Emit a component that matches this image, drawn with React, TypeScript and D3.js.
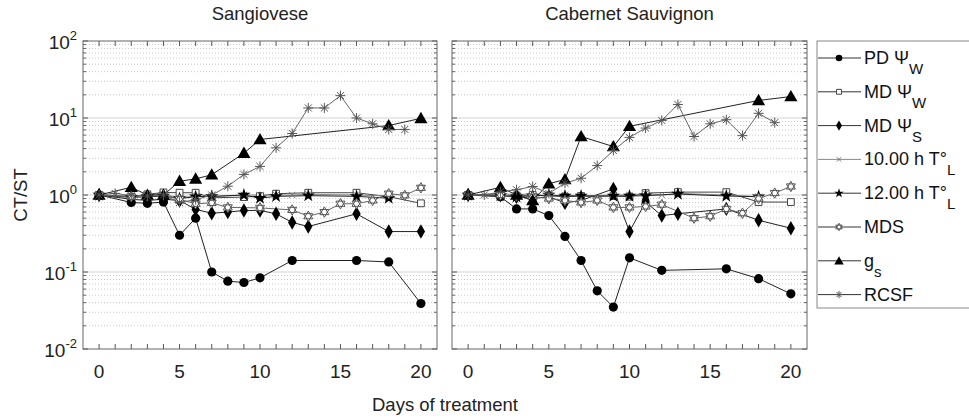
import React from 'react';
import * as d3 from 'd3';

// days / values, one pair per series and panel
const sgPdDays = [0, 2, 3, 4, 5, 6, 7, 8, 9, 10, 12, 16, 18, 20];
const sgPdVals = [1, 0.8, 0.78, 0.81, 0.3, 0.5, 0.1, 0.076, 0.073, 0.084, 0.141, 0.141, 0.135, 0.039];
const sgMdwDays = [0, 2, 3, 4, 5, 6, 7, 9, 10, 11, 13, 16, 18, 20];
const sgMdwVals = [1, 0.95, 1.02, 1.08, 1.07, 1.07, 0.92, 0.94, 0.97, 1.04, 1.07, 1.07, 0.95, 0.78];
const sgMdsDays = [0, 2, 3, 4, 5, 6, 7, 8, 9, 10, 11, 12, 13, 16, 18, 20];
const sgMdsVals = [1, 0.88, 0.85, 0.88, 0.85, 0.65, 0.58, 0.6, 0.63, 0.63, 0.57, 0.44, 0.39, 0.57, 0.335, 0.335];
const sgT10Days = [0, 2, 3, 4, 5, 6, 7, 9, 10, 11, 12, 13, 16, 18];
const sgT10Vals = [1, 0.97, 1.0, 1.02, 0.92, 0.97, 0.95, 1.0, 1.0, 1.0, 1.0, 1.02, 1.0, 0.97];
const sgT12Days = [0, 2, 3, 4, 5, 6, 7, 9, 10, 11, 13, 16, 18];
const sgT12Vals = [1, 0.93, 0.95, 0.97, 0.9, 0.95, 0.96, 1.0, 0.91, 0.96, 0.98, 0.96, 0.91];
const sgMdsiDays = [0, 2, 3, 4, 5, 6, 7, 8, 10, 12, 13, 14, 15, 16, 17, 18, 19, 20];
const sgMdsiVals = [1, 0.95, 0.97, 1.0, 0.88, 0.77, 0.79, 0.69, 0.68, 0.64, 0.53, 0.6, 0.77, 0.77, 0.85, 1.04, 0.99, 1.24];
const sgGsDays = [0, 2, 3, 4, 5, 6, 7, 9, 10, 18, 20];
const sgGsVals = [1, 1.26, 1.0, 1.0, 1.51, 1.62, 1.83, 3.49, 5.26, 7.98, 9.9];
const sgRcsfDays = [0, 1, 2, 3, 4, 5, 6, 7, 8, 9, 10, 11, 12, 13, 14, 15, 16, 17, 18, 19];
const sgRcsfVals = [1, 1.05, 0.98, 0.97, 1.0, 0.8, 0.87, 1.0, 1.3, 1.85, 2.35, 4.1, 6.3, 13.5, 13.5, 19.5, 10.0, 8.4, 7.1, 7.1];

const cbPdDays = [0, 2, 3, 4, 5, 6, 7, 8, 9, 10, 12, 16, 18, 20];
const cbPdVals = [1, 0.95, 0.66, 0.66, 0.54, 0.29, 0.141, 0.057, 0.035, 0.153, 0.105, 0.11, 0.082, 0.052];
const cbMdwDays = [0, 2, 3, 4, 5, 6, 7, 9, 10, 11, 13, 16, 18, 20];
const cbMdwVals = [1, 0.97, 0.98, 1.0, 0.97, 0.95, 0.97, 0.97, 0.95, 1.06, 1.09, 1.09, 0.81, 0.81];
const cbMdsDays = [0, 2, 3, 4, 5, 6, 7, 9, 10, 11, 12, 13, 16, 18, 20];
const cbMdsVals = [1, 1.0, 0.95, 0.9, 0.95, 0.79, 0.85, 1.2, 0.336, 0.81, 0.54, 0.57, 0.66, 0.47, 0.37];
const cbT10Days = [0, 2, 3, 4, 5, 6, 7, 9, 10, 11, 12, 13, 16, 18];
const cbT10Vals = [1, 1.05, 1.0, 1.05, 0.95, 1.0, 0.97, 1.0, 1.0, 1.05, 1.0, 1.05, 1.0, 0.95];
const cbT12Days = [0, 2, 3, 4, 5, 6, 7, 9, 10, 11, 13, 16, 18];
const cbT12Vals = [1, 0.98, 0.95, 0.97, 1.0, 0.97, 0.97, 0.97, 0.97, 0.98, 1.03, 0.97, 0.95];
const cbMdsiDays = [0, 2, 3, 4, 5, 6, 7, 8, 9, 10, 11, 12, 14, 15, 16, 17, 18, 19, 20];
const cbMdsiVals = [1, 1.0, 0.97, 0.95, 0.9, 0.85, 0.8, 0.85, 0.69, 0.69, 0.71, 0.75, 0.5, 0.53, 0.66, 0.58, 0.9, 1.06, 1.29];
const cbGsDays = [0, 2, 3, 4, 5, 6, 7, 9, 10, 18, 20];
const cbGsVals = [1, 1.26, 1.0, 0.85, 1.4, 1.59, 5.75, 4.26, 7.8, 16.9, 19.0];
const cbRcsfDays = [0, 1, 2, 3, 4, 5, 6, 7, 8, 9, 10, 11, 12, 13, 14, 15, 16, 17, 18, 19];
const cbRcsfVals = [1, 1.0, 1.1, 1.17, 1.29, 1.05, 1.42, 1.65, 2.41, 3.78, 5.6, 7.4, 9.3, 15.0, 5.75, 8.4, 9.5, 5.9, 11.5, 8.7];

const panelTitles = ['Sangiovese', 'Cabernet Sauvignon'];
const xTicks = [0, 5, 10, 15, 20];
const yExponents = [-2, -1, 0, 1, 2];

const FONT = 'Liberation Sans, Arial, sans-serif';

// marker key, label, subscript
const seriesInfo = [
  { key: 'pd', label: 'PD\u00a0\u03a8', sub: 'W', line: '#222' },
  { key: 'mdw', label: 'MD\u00a0\u03a8', sub: 'W', line: '#444' },
  { key: 'mds', label: 'MD\u00a0\u03a8', sub: 'S', line: '#222' },
  { key: 't10', label: '10.00 h T\u00b0', sub: 'L', line: '#888' },
  { key: 't12', label: '12.00 h T\u00b0', sub: 'L', line: '#222' },
  { key: 'mdsi', label: 'MDS', sub: '', line: '#666' },
  { key: 'gs', label: 'g', sub: 's', line: '#222' },
  { key: 'rcsf', label: 'RCSF', sub: '', line: '#666' },
];

const panels = [
  {
    pd: [sgPdDays, sgPdVals], mdw: [sgMdwDays, sgMdwVals], mds: [sgMdsDays, sgMdsVals],
    t10: [sgT10Days, sgT10Vals], t12: [sgT12Days, sgT12Vals], mdsi: [sgMdsiDays, sgMdsiVals],
    gs: [sgGsDays, sgGsVals], rcsf: [sgRcsfDays, sgRcsfVals],
  },
  {
    pd: [cbPdDays, cbPdVals], mdw: [cbMdwDays, cbMdwVals], mds: [cbMdsDays, cbMdsVals],
    t10: [cbT10Days, cbT10Vals], t12: [cbT12Days, cbT12Vals], mdsi: [cbMdsiDays, cbMdsiVals],
    gs: [cbGsDays, cbGsVals], rcsf: [cbRcsfDays, cbRcsfVals],
  },
];

const hexagram = (r: number) => {
  const tri = (rot: number) =>
    d3.range(3).map(i => {
      const a = rot + (i * 2 * Math.PI) / 3;
      return [r * Math.sin(a), -r * Math.cos(a)];
    });
  const p = (pts: number[][]) => 'M' + pts.map(q => q.join(',')).join('L') + 'Z';
  return p(tri(0)) + p(tri(Math.PI));
};

const asterisk = (r: number) => {
  let s = '';
  for (let i = 0; i < 4; i++) {
    const a = (i * Math.PI) / 4;
    s += `M${-r * Math.cos(a)},${-r * Math.sin(a)}L${r * Math.cos(a)},${r * Math.sin(a)}`;
  }
  return s;
};

const Marker = ({ kind, x, y, scale = 1 }: { kind: string; x: number; y: number; scale?: number }) => {
  const t = `translate(${x},${y})`;
  switch (kind) {
    case 'pd':
      return <circle cx={x} cy={y} r={4.6 * scale} fill="#000" />;
    case 'mdw':
      return <path transform={t} d={d3.symbol(d3.symbolSquare, 46 * scale * scale)()!} fill="#fff" stroke="#444" strokeWidth={1} />;
    case 'mds':
      return <path transform={t} d={d3.symbol(d3.symbolDiamond, 60 * scale * scale)()!} fill="#000" />;
    case 't10':
      return <path transform={t} d={d3.symbol(d3.symbolTimes, 28 * scale * scale)()!} fill="none" stroke="#777" strokeWidth={1} />;
    case 't12':
      return <path transform={t} d={d3.symbol(d3.symbolStar, 55 * scale * scale)()!} fill="#000" />;
    case 'mdsi':
      return <path transform={t} d={hexagram(5.2 * scale)} fill="#fff" stroke="#555" strokeWidth={1} />;
    case 'gs':
      return <path transform={`translate(${x},${y + 1})`} d={d3.symbol(d3.symbolTriangle, 75 * scale * scale)()!} fill="#000" />;
    case 'rcsf':
      return <path transform={t} d={asterisk(5 * scale)} fill="none" stroke="#555" strokeWidth={1} />;
  }
  return null;
};

const yScale = d3.scaleLog().domain([0.01, 100]).range([349, 41]);

const Panel = ({ idx, left, right }: { idx: number; left: number; right: number }) => {
  const x = d3.scaleLinear().domain([-1, 21]).range([left, right]);
  const data: any = panels[idx];
  const top = yScale(100);
  const bottom = yScale(0.01);
  const minor: number[] = [];
  for (let e = -2; e < 2; e++) for (let m = 2; m <= 9; m++) minor.push(m * Math.pow(10, e));
  const line = d3.line<[number, number]>().x(d => x(d[0])).y(d => yScale(d[1]));
  const clipId = `clip${idx}`;
  return (
    <g>
      <defs>
        <clipPath id={clipId}>
          <rect x={left} y={top} width={right - left} height={bottom - top} />
        </clipPath>
      </defs>
      {minor.map(v => (
        <line key={v} x1={left} x2={right} y1={yScale(v)} y2={yScale(v)} stroke="#c8c8c8" strokeWidth={1} strokeDasharray="1,2" />
      ))}
      {yExponents.slice(1, -1).map(e => (
        <line key={e} x1={left} x2={right} y1={yScale(Math.pow(10, e))} y2={yScale(Math.pow(10, e))} stroke="#e2e2e2" strokeWidth={1.5} />
      ))}
      {/* ticks on all four sides */}
      {d3.range(0, 21).map(d => (
        <g key={d}>
          <line x1={x(d)} x2={x(d)} y1={bottom} y2={bottom - 5} stroke="#555" />
          <line x1={x(d)} x2={x(d)} y1={top} y2={top + 5} stroke="#555" />
        </g>
      ))}
      {minor.map(v => (
        <g key={'t' + v}>
          <line x1={left} x2={left + 3} y1={yScale(v)} y2={yScale(v)} stroke="#666" />
          <line x1={right} x2={right - 3} y1={yScale(v)} y2={yScale(v)} stroke="#666" />
        </g>
      ))}
      {yExponents.map(e => (
        <g key={'m' + e}>
          <line x1={left} x2={left + 5} y1={yScale(Math.pow(10, e))} y2={yScale(Math.pow(10, e))} stroke="#555" />
          <line x1={right} x2={right - 5} y1={yScale(Math.pow(10, e))} y2={yScale(Math.pow(10, e))} stroke="#555" />
        </g>
      ))}
      <g clipPath={`url(#${clipId})`}>
        {seriesInfo.map(s => {
          const [days, vals] = data[s.key];
          const pts: [number, number][] = days.map((d: number, i: number) => [d, vals[i]]);
          return <path key={s.key} d={line(pts)!} fill="none" stroke={s.line} strokeWidth={1} />;
        })}
        {seriesInfo.map(s => {
          const [days, vals] = data[s.key];
          return (
            <g key={'mk' + s.key}>
              {days.map((d: number, i: number) => (
                <Marker key={i} kind={s.key} x={x(d)} y={yScale(vals[i])} />
              ))}
            </g>
          );
        })}
      </g>
      <rect x={left} y={top} width={right - left} height={bottom - top} fill="none" stroke="#666" strokeWidth={1} />
      {xTicks.map(t => (
        <text key={t} x={x(t)} y={378} textAnchor="middle" fontSize={19} fontFamily={FONT} fill="#222">
          {t}
        </text>
      ))}
      <text x={(left + right) / 2} y={20} textAnchor="middle" fontSize={18.5} fontFamily={FONT} fill="#222">
        {panelTitles[idx]}
      </text>
    </g>
  );
};

const Legend = () => {
  const y0 = 58;
  const step = 33.8;
  return (
    <g>
      <rect x={817} y={41} width={170} height={267} fill="#fff" stroke="#888" strokeWidth={1} />
      {seriesInfo.map((s, i) => {
        const y = y0 + i * step;
        return (
          <g key={s.key}>
            <line x1={818} x2={861} y1={y} y2={y} stroke={s.line === '#888' ? '#888' : '#333'} strokeWidth={1} />
            <Marker kind={s.key} x={839} y={y} scale={0.72} />
            <text x={864} y={y + 6} fontSize={18} fontFamily={FONT} fill="#111">
              {s.label}
              {s.sub && (
                <tspan dy={10} fontSize={15}>
                  {s.sub}
                </tspan>
              )}
            </text>
          </g>
        );
      })}
    </g>
  );
};

export default function App() {
  return (
    <svg width={969} height={418} style={{ position: 'absolute', left: 0, top: 0, background: '#fff' }}>
      <rect width={969} height={418} fill="#fff" />
      {yExponents.map(e => (
        <text key={e} x={77} y={yScale(Math.pow(10, e)) + 8} textAnchor="end" fontSize={19} fontFamily={FONT} fill="#222">
          10
          <tspan dy={-9} fontSize={13}>
            {e}
          </tspan>
        </text>
      ))}
      <text transform="translate(27,195) rotate(-90)" textAnchor="middle" fontSize={18.5} fontFamily={FONT} fill="#222">
        CT/ST
      </text>
      <Panel idx={0} left={83} right={437} />
      <Panel idx={1} left={452} right={807} />
      <Legend />
      <text x={445} y={411} textAnchor="middle" fontSize={18.5} fontFamily={FONT} fill="#222">
        Days of treatment
      </text>
    </svg>
  );
}
